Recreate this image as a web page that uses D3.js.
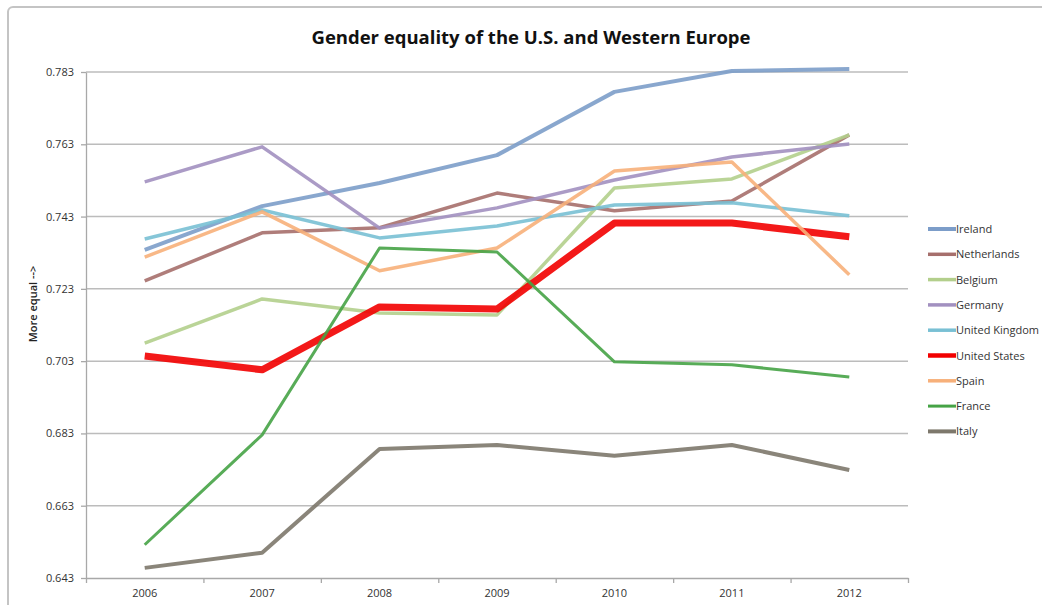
<!DOCTYPE html>
<html>
<head>
<meta charset="utf-8">
<script src="https://cdn.jsdelivr.net/npm/d3@7"></script>
<style>
  body { margin: 0; background: #fff; }
  #root { width: 1042px; height: 605px; }
  text { font-family: 'Open Sans', sans-serif; fill: #222; }
</style>
</head>
<body>
<div id="root"></div>
<script>
'use strict';

const years = ['2006', '2007', '2008', '2009', '2010', '2011', '2012'];

const yTicks = [0.643, 0.663, 0.683, 0.703, 0.723, 0.743, 0.763, 0.783];

const countries = ['Ireland', 'Netherlands', 'Belgium', 'Germany', 'United Kingdom',
                   'United States', 'Spain', 'France', 'Italy'];

const ireland     = [0.7338, 0.7459, 0.7523, 0.7600, 0.7775, 0.7833, 0.7838];
const netherlands = [0.7252, 0.7385, 0.7399, 0.7495, 0.7446, 0.7473, 0.7656];
const belgium     = [0.7080, 0.7202, 0.7163, 0.7158, 0.7509, 0.7534, 0.7656];
const germany     = [0.7526, 0.7623, 0.7398, 0.7454, 0.7531, 0.7595, 0.7631];
const uk          = [0.7368, 0.7448, 0.7371, 0.7404, 0.7462, 0.7468, 0.7432];
const us          = [0.7044, 0.7006, 0.7180, 0.7174, 0.7412, 0.7412, 0.7374];
const spain       = [0.7318, 0.7443, 0.7280, 0.7343, 0.7556, 0.7581, 0.7269];
const france      = [0.6522, 0.6826, 0.7343, 0.7332, 0.7028, 0.7020, 0.6986];
const italy       = [0.6458, 0.6500, 0.6787, 0.6798, 0.6768, 0.6798, 0.6729];

const seriesValues = [ireland, netherlands, belgium, germany, uk, us, spain, france, italy];

const colors = ['#7c9dc9', '#a66f6c', '#b3cf8c', '#a290c0', '#79c0d4',
                '#f20000', '#f7b07a', '#46a346', '#7d786c'];
const widths = [4, 3.5, 3.5, 3.5, 3.5, 7, 3.5, 3, 4];

function makeChart() {
  const root = document.querySelector('#root'),
           w = 1042,
           h = 605,
        left = 86,
       right = 908,
         top = 72,
      bottom = 578,

         svg = d3.select(root)
                 .append('svg')
                 .attr('width', w)
                 .attr('height', h),

      xScale = d3.scaleBand()
                 .domain(years)
                 .range([left, right]),

      yScale = d3.scaleLinear()
                 .domain([0.643, 0.783])
                 .range([bottom, top]);

  // outer chart frame
  svg.append('rect')
     .attr('x', 8)
     .attr('y', 7)
     .attr('width', 1060)
     .attr('height', 640)
     .attr('rx', 5)
     .attr('fill', 'none')
     .attr('stroke', '#c4c4c4')
     .attr('stroke-width', 2);

  svg.append('text')
     .attr('x', 531)
     .attr('y', 44)
     .attr('text-anchor', 'middle')
     .style('font-size', '18.5px')
     .style('font-weight', 700)
     .style('fill', '#111')
     .text('Gender equality of the U.S. and Western Europe');

  // horizontal gridlines
  svg.append('g')
     .selectAll('line')
     .data(yTicks.slice(1))
     .enter()
     .append('line')
     .attr('x1', left)
     .attr('x2', right)
     .attr('y1', (d) => yScale(d))
     .attr('y2', (d) => yScale(d))
     .attr('stroke', '#bcbcbc')
     .attr('stroke-width', 1.5);

  const yAxis = d3.axisLeft(yScale)
                  .tickValues(yTicks)
                  .tickFormat(d3.format('.3f'))
                  .tickSize(5)
                  .tickSizeOuter(0)
                  .tickPadding(7),
        xAxis = d3.axisBottom(d3.scaleLinear().domain([0, years.length]).range([left, right]))
                  .tickValues(d3.range(years.length + 1))
                  .tickFormat('')
                  .tickSize(5)
                  .tickSizeOuter(0);

  const gy = svg.append('g')
                .attr('transform', 'translate(' + left + ', 0)')
                .call(yAxis);
  gy.selectAll('path, line').attr('stroke', '#a8a8a8').attr('stroke-width', 1.3);
  gy.selectAll('text').style('font-size', '11px').style('fill', '#333');

  const gx = svg.append('g')
                .attr('transform', 'translate(0, ' + bottom + ')')
                .call(xAxis);
  gx.selectAll('path, line').attr('stroke', '#a8a8a8').attr('stroke-width', 1.3);

  svg.append('g')
     .selectAll('text')
     .data(years)
     .enter()
     .append('text')
     .attr('x', (d) => xScale(d) + xScale.bandwidth() / 2)
     .attr('y', bottom + 19)
     .attr('text-anchor', 'middle')
     .style('font-size', '11px')
     .style('fill', '#333')
     .text((d) => d);

  svg.append('text')
     .attr('transform', 'translate(37, 304) rotate(-90)')
     .attr('text-anchor', 'middle')
     .style('font-size', '11px')
     .style('font-weight', 600)
     .text('More equal -->');

  const line = d3.line()
                 .x((d, i) => xScale(years[i]) + xScale.bandwidth() / 2)
                 .y((d) => yScale(d));

  svg.append('g')
     .selectAll('path')
     .data(seriesValues)
     .enter()
     .append('path')
     .attr('d', (d) => line(d))
     .attr('fill', 'none')
     .attr('stroke', (d, i) => colors[i])
     .attr('stroke-width', (d, i) => widths[i])
     .attr('stroke-opacity', 0.9)
     .attr('stroke-linejoin', 'round');

  // legend
  const legend = svg.append('g')
                    .selectAll('g')
                    .data(countries)
                    .enter()
                    .append('g')
                    .attr('transform', (d, i) => 'translate(928, ' + (229 + i * 25.3) + ')');

  legend.append('line')
        .attr('x1', 0)
        .attr('x2', 28)
        .attr('stroke', (d, i) => colors[i])
        .attr('stroke-width', (d, i) => Math.min(widths[i], 4.5));

  legend.append('text')
        .attr('x', 28)
        .attr('y', 4)
        .style('font-size', '11px')
        .style('fill', '#333')
        .text((d) => d);
}

makeChart();
</script>
</body>
</html>
